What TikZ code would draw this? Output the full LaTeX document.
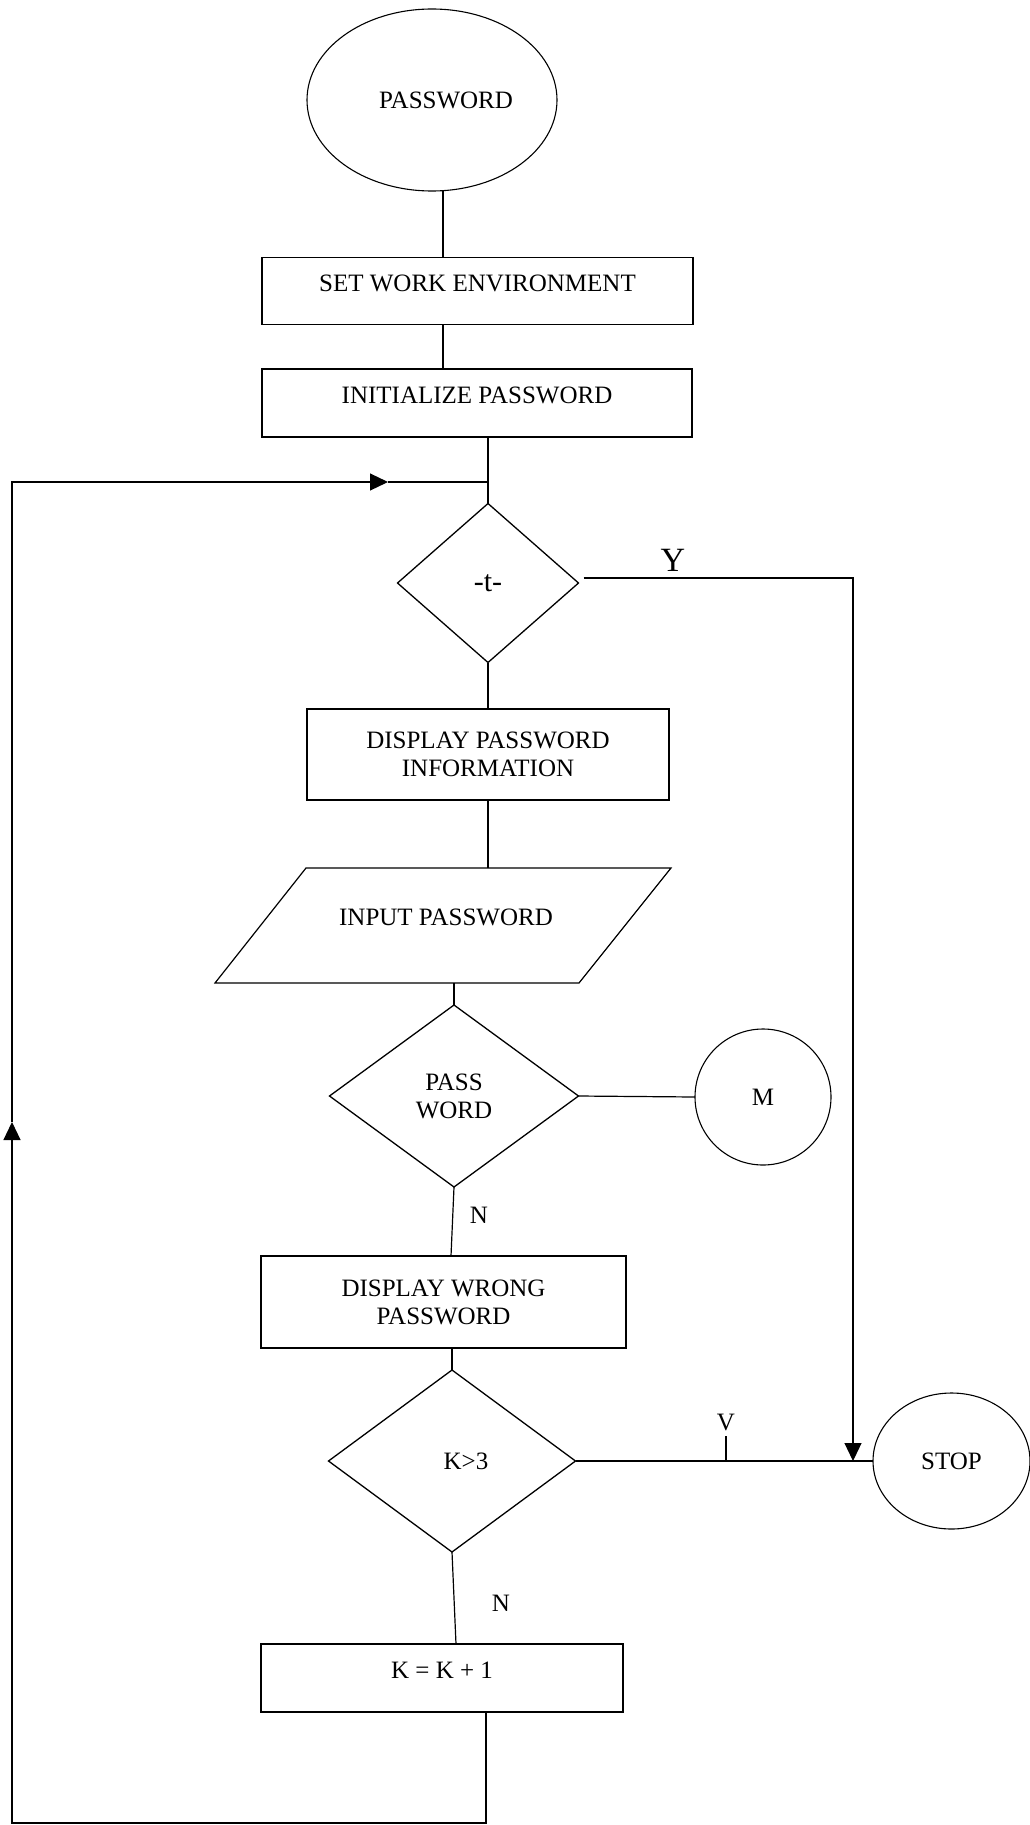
\documentclass[tikz,border=0pt]{standalone}
\usepackage{fontspec}
\setmainfont{Liberation Serif}
\usetikzlibrary{shapes.geometric,arrows.meta}
\begin{document}
\begin{tikzpicture}[x=1pt,y=-1pt,
  every node/.style={font=\fontsize{25}{28}\selectfont, inner sep=0pt, outer sep=0pt},
  line/.style={line width=1.2pt, draw=black},
  procbox/.style={rectangle, draw=black, line width=1.2pt},
  onetext/.style={text height=14pt, text depth=14pt},
  decision/.style={diamond, draw=black, line width=1.3pt},
  terminal/.style={ellipse, draw=black, line width=1.1pt},
  lbl/.style={font=\fontsize{25}{28}\selectfont},
  bigtip/.style={-{Triangle[length=18pt,width=17pt]}}]
\useasboundingbox (0,0) rectangle (1030,1825);

% nodes
\node[terminal, minimum width=250pt, minimum height=182pt] (start) at (432,100) {\hspace*{28pt}PASSWORD};
\node[procbox, onetext, minimum width=431pt, minimum height=67pt] (setenv) at (477.5,291) {SET WORK ENVIRONMENT};
\node[procbox, onetext, minimum width=430pt, minimum height=68pt] (init) at (477,403) {INITIALIZE PASSWORD};
\node[decision, minimum width=181pt, minimum height=159pt, font=\fontsize{30}{34}\selectfont] (d1) at (488,583) {-t-};
\node[procbox, align=center, minimum width=362pt, minimum height=91pt] (disp) at (488,754.5) {DISPLAY PASSWORD\\INFORMATION};
\node[onetext, minimum width=456pt, minimum height=115pt] (input) at (443,925.5) {\hspace*{6pt}INPUT PASSWORD};
\node[decision, align=center, minimum width=249pt, minimum height=182pt] (d2) at (454,1096) {PASS\\WORD};
\node[circle, draw=black, line width=1.1pt, minimum size=136pt] (M) at (763,1097) {M};
\node[procbox, align=center, minimum width=365pt, minimum height=92pt] (wrong) at (443.5,1302) {DISPLAY WRONG\\PASSWORD};
\node[decision, minimum width=247pt, minimum height=182pt] (d3) at (452,1461) {\hspace*{28pt}K>3};
\node[terminal, minimum width=157pt, minimum height=136pt] (stop) at (951.5,1461) {STOP};
\node[procbox, onetext, minimum width=362pt, minimum height=68pt] (k1) at (442,1678) {K = K + 1};

% labels
\node[font=\fontsize{34}{38}\selectfont] (ylab) at (673,560) {Y};
\node[lbl] (nA) at (479,1215) {N};
\node[lbl] (vlab) at (726,1422) {V};
\node[lbl] (nB) at (501,1603) {N};

% helper coordinates
\coordinate (axA) at (443,0);
\coordinate (jn) at (488,482);
\coordinate (tl) at (12,482);
\coordinate (bl) at (12,1823);
\coordinate (br) at (486,1823);
\coordinate (upTip) at (12,1122);
\coordinate (rTip) at (388,482);
\coordinate (yTurn) at (853,578);
\coordinate (yEnd) at (853,1461);
\coordinate (tick) at (726,1461);
\coordinate (tickTop) at (726,1436);

% parallelogram outline of the input node
\draw[line] ([xshift=91pt]input.north west) -- (input.north east) -- ([xshift=-92pt]input.south east) -- (input.south west) -- cycle;

% connectors
\draw[line] (start.south -| axA) -- (setenv.north -| axA);
\draw[line] (setenv.south -| axA) -- (init.north -| axA);
\draw[line] (init.south -| jn) -- (jn) -- (d1.north);
\draw[line] (d1.south) -- (disp.north);
\draw[line] (disp.south) -- (disp.south |- input.north);
\draw[line] (input.south -| d2.north) -- (d2.north);
\draw[line] (d2.east) -- (M.west);
\draw[line] (d2.south) -- ([xshift=-3pt]d2.south |- wrong.north);
\draw[line] (wrong.south -| d3.north) -- (d3.north);
\draw[line] (d3.east) -- (stop.west);
\draw[line] (tick) -- (tickTop);
\draw[line] (d3.south) -- ([xshift=4pt]d3.south |- k1.north);
\draw[line, bigtip] ([shift={(5,-5)}]d1.east) -- (yTurn) -- (yEnd);
\draw[line, bigtip] (k1.south -| br) -- (br) -- (bl) -- (upTip);
\draw[line, bigtip] (upTip) -- (tl) -- (rTip);
\draw[line] (rTip) -- (jn);
\end{tikzpicture}
\end{document}
